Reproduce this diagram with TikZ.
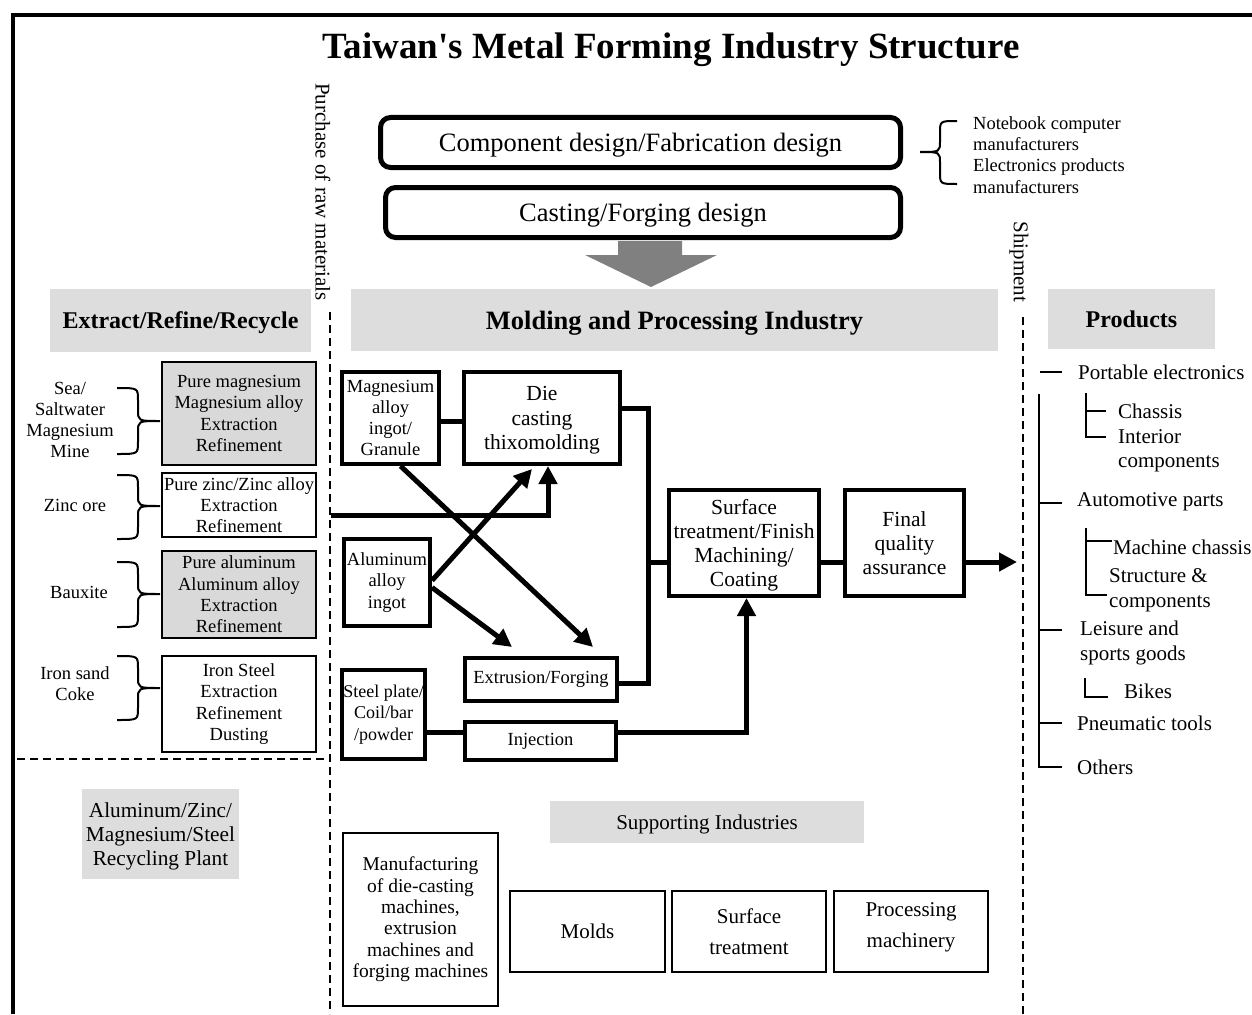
\documentclass[tikz,border=0pt]{standalone}
\usepackage{fontspec}
\setmainfont{Liberation Serif}
\usetikzlibrary{arrows.meta,calc}
\newcommand\setfs[2]{\fontsize{#1pt}{#2pt}\selectfont}
\definecolor{hdr}{RGB}{221,221,221}
\definecolor{srcgray}{RGB}{217,217,217}
\definecolor{bigarrow}{RGB}{128,128,128}
% curly brace opening to the left, tip pointing right at x=160
\newcommand\srcbrace[3]{%
  \draw[brc] (117,#1) .. controls (138,#1) .. (138,{#1+12}) -- (138,{#3-11})
    .. controls (138,#3) .. (160,#3) .. controls (138,#3) .. (138,{#3+11})
    -- (138,{#2-12}) .. controls (138,#2) .. (117,#2);}
\begin{document}
\begin{tikzpicture}[x=1pt,y=-1pt,
  every node/.style={inner sep=0pt},
  body/.style={font=\setfs{18.5}{21.3}, align=center},
  roundbox/.style={draw, line width=5pt, rounded corners=10pt, text depth=0pt, font=\setfs{26.5}{30}},
  hdrbox/.style={fill=hdr, align=center, text depth=0pt},
  srcbox/.style={draw, line width=2pt, body},
  procbox/.style={draw, line width=4pt, body},
  bigbox/.style={draw, line width=4pt, align=center, text depth=0pt, font=\setfs{21.5}{24.2}},
  supbox/.style={draw, line width=2pt, align=center, font=\setfs{21}{31}},
  flowline/.style={line width=5pt},
  flowarrow/.style={flowline, -{Triangle[length=18pt,width=18pt]}},
  brc/.style={line width=2pt},
  tree/.style={line width=2pt},
  item/.style={anchor=west, align=left, font=\setfs{21}{24.5}},
  sep/.style={line width=2pt, dash pattern=on 8pt off 5pt}]
\useasboundingbox (0,0) rectangle (1252,1014);

% outer frame
\draw[line width=4.7pt] (13,1014) -- (13,15) -- (1252,15);

% title
\node[anchor=base, font=\bfseries\setfs{37}{40}] (title) at (671,59) {Taiwan\textquotesingle s Metal Forming Industry Structure};

% design stages
\node[roundbox, minimum width=520pt, minimum height=50pt] (compdes) at (640.5,142.5) {Component design/Fabrication design};
\node[roundbox, minimum width=515pt, minimum height=50pt] (castdes) at (643,212.5) {Casting/Forging design};
\fill[bigarrow] (618,241) -- (682,241) -- (682,255) -- (717,255) -- (651,287) -- (585,255) -- (618,255) -- cycle;

% customers
\draw[brc] (957,121) .. controls (940,121) .. (940,133) -- (940,141)
  .. controls (940,152) .. (920,152) .. controls (940,152) .. (940,163)
  -- (940,172) .. controls (940,184) .. (957,184);
\node[anchor=west, align=left, font=\setfs{18.5}{21.3}] (customers) at (973,155)
  {Notebook computer\\manufacturers\\Electronics products\\manufacturers};

% separators
\node[rotate=-90, font=\setfs{21}{24}] (purchase) at (323,192) {Purchase of raw materials};
\node[rotate=-90, font=\setfs{21}{24}] (shipment) at (1019,262) {Shipment};
\draw[sep] (330,312) -- (330,1014);
\draw[sep] (17,759) -- (330,759);
\draw[sep] (1023,317) -- (1023,1014);

% section headers
\node[hdrbox, minimum width=261pt, minimum height=63pt, font=\bfseries\setfs{24}{28}] (exthdr) at (180.5,320.5) {Extract/Refine/Recycle};
\node[hdrbox, minimum width=647pt, minimum height=62pt, font=\bfseries\setfs{26.5}{30}] (moldhdr) at (674.5,320) {Molding and Processing Industry};
\node[hdrbox, minimum width=167pt, minimum height=60pt, font=\bfseries\setfs{24}{28}] (prodhdr) at (1131.5,319) {Products};

% raw material sources
\node[srcbox, fill=srcgray, minimum width=154pt, minimum height=103pt] (mg) at (239,413.5) {Pure magnesium\\Magnesium alloy\\Extraction\\Refinement};
\node[srcbox, minimum width=154pt, minimum height=64pt] (zn) at (239,505) {Pure zinc/Zinc alloy\\Extraction\\Refinement};
\node[srcbox, fill=srcgray, minimum width=154pt, minimum height=87pt] (al) at (239,594.5) {Pure aluminum\\Aluminum alloy\\Extraction\\Refinement};
\node[srcbox, minimum width=154pt, minimum height=96pt] (fe) at (239,704) {Iron Steel\\Extraction\\Refinement\\Dusting};

\node[body] (sea) at (70,420) {Sea/\\Saltwater\\Magnesium\\Mine};
\node[body] (zincore) at (75,505) {Zinc ore};
\node[body] (bauxite) at (79,592) {Bauxite};
\node[body] (ironsand) at (75,684) {Iron sand\\Coke};
\srcbrace{388}{454}{421}
\srcbrace{475}{539}{506}
\srcbrace{562}{627}{594}
\srcbrace{656}{720}{688}

\node[hdrbox, minimum width=157pt, minimum height=90pt, font=\setfs{21.3}{24}] (recycle) at (160.5,834) {Aluminum/Zinc/\\Magnesium/Steel\\Recycling Plant};

% molding and processing
\node[procbox, minimum width=97pt, minimum height=92pt] (mag) at (390.5,418) {Magnesium\\alloy\\ingot/\\Granule};
\node[bigbox, minimum width=156pt, minimum height=92pt] (die) at (542,418) {Die\\casting\\thixomolding};
\node[procbox, minimum width=86pt, minimum height=87pt] (alu) at (387,582.5) {Aluminum\\alloy\\ingot};
\node[procbox, minimum width=152pt, minimum height=43pt] (ext) at (541,679.5) {Extrusion/Forging};
\node[procbox, minimum width=83pt, minimum height=89pt, font=\setfs{18}{21.3}] (steel) at (383.5,714.5) {Steel plate/\\Coil/bar\\/powder};
\node[procbox, minimum width=151pt, minimum height=38pt] (inj) at (540.5,741) {Injection};
\node[bigbox, minimum width=150pt, minimum height=106pt] (surf) at (744,543) {Surface\\treatment/Finish\\Machining/\\Coating};
\node[bigbox, minimum width=119pt, minimum height=106pt] (final) at (904.5,543) {Final\\quality\\assurance};

\coordinate (znin) at (331,515.5);
\coordinate (bustop) at (648,408.5);
\coordinate (busbot) at (648,683.5);
\coordinate (busmid) at (648,562);
\coordinate (injrow) at (0,732);
\coordinate (shipin) at (1017,562);

\draw[flowline] ($(mag.east)+(0,3)$) -- ($(die.west)+(0,3)$);
\draw[flowarrow] (znin) -| ($(die.south)+(6,0)$);
\draw[flowarrow] ($(alu.east)+(0,-2)$) -- ($(die.south)+(-10,3)$);
\draw[flowarrow] ($(alu.east)+(0,5)$) -- ($(ext.north)+(-29,-9)$);
\draw[flowarrow] ($(mag.south)+(10,0)$) -- ($(ext.north)+(52,-9)$);
\draw[flowline] (die.east |- bustop) -- (bustop) -- (busbot) -- (ext.east |- busbot);
\draw[flowline] (busmid) -- (surf.west |- busmid);
\draw[flowline] (surf.east |- busmid) -- (final.west |- busmid);
\draw[flowarrow] (final.east |- busmid) -- (shipin);
\draw[flowline] (steel.east |- injrow) -- (inj.west |- injrow);
\draw[flowarrow] (inj.east |- injrow) -| ($(surf.south)+(2.5,0)$);

% supporting industries
\node[hdrbox, minimum width=314pt, minimum height=42pt, font=\setfs{21}{24}] (suphdr) at (707,822) {Supporting Industries};
\node[draw, line width=2pt, align=center, font=\setfs{19.5}{21.4}, minimum width=155pt, minimum height=173pt] (mfg) at (420.5,919.5) {Manufacturing\\of die-casting\\machines,\\extrusion\\machines and\\forging machines};
\node[supbox, minimum width=155pt, minimum height=81pt] (molds) at (587.5,931.5) {Molds};
\node[supbox, minimum width=154pt, minimum height=81pt] (stsurf) at (749,931.5) {Surface\\treatment};
\node[supbox, minimum width=154pt, minimum height=81pt, text depth=12pt] (procm) at (911,931.5) {Processing\\machinery};

% products
\node[item] (portable) at (1078,372) {Portable electronics};
\node[item] (chassis) at (1118,411) {Chassis};
\node[item] (interior) at (1118,451) {Interior\\components};
\node[item] (auto) at (1077,502) {Automotive parts};
\node[item] (machine) at (1113,547) {Machine chassis};
\node[item] (structure) at (1109,590) {Structure \&\\components};
\node[item] (leisure) at (1080,643) {Leisure and\\sports goods};
\node[item] (bikes) at (1124,691) {Bikes};
\node[item] (pneumatic) at (1077,723) {Pneumatic tools};
\node[item] (others) at (1077,767) {Others};

\draw[tree] (1040,372) -- (1062,372);
\draw[tree] (1039,394) -- (1039,767) -- (1062,767);
\draw[tree] (1039,503) -- (1062,503);
\draw[tree] (1039,630) -- (1062,630);
\draw[tree] (1039,723) -- (1062,723);
\draw[tree] (1086,393) -- (1086,437) -- (1106,437);
\draw[tree] (1086,411) -- (1106,411);
\draw[tree] (1086,528) -- (1086,595) -- (1107,595);
\draw[tree] (1086,541) -- (1112,541);
\draw[tree] (1085,678) -- (1085,697) -- (1108,697);
\end{tikzpicture}
\end{document}
